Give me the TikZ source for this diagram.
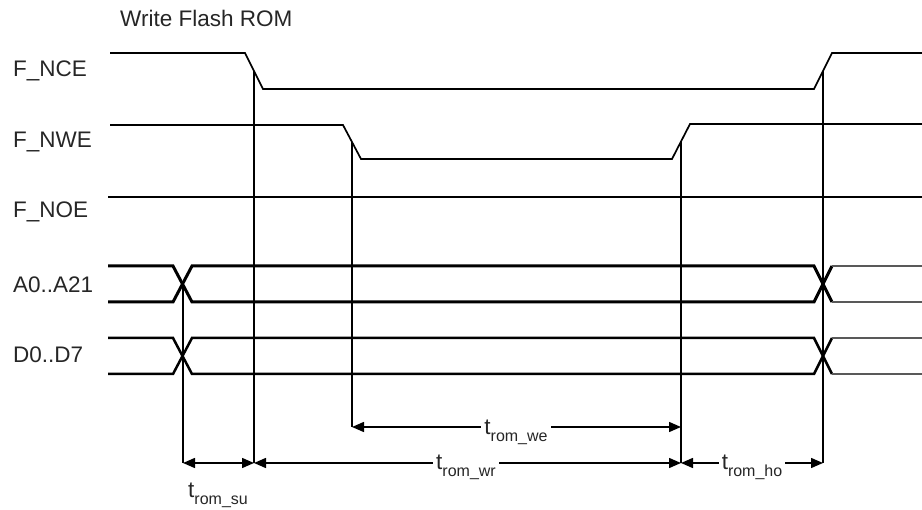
\documentclass[tikz,border=0pt]{standalone}
\usepackage{fontspec}
\setmainfont{Liberation Sans}
\usetikzlibrary{arrows.meta}
\newcommand{\tsubx}[1]{t\raisebox{-7pt}{\fontsize{16}{16}\selectfont #1}}
\begin{document}
\begin{tikzpicture}[x=1pt,y=-1pt,
  sig/.style={line width=1.7pt, line join=miter},
  thicksig/.style={line width=2.8pt},
  abus/.style={line width=3.0pt},
  dbus/.style={line width=2.5pt},
  after/.style={line width=1.5pt, black!65},
  guide/.style={line width=1.5pt},
  dim/.style={line width=1.5pt, {Triangle[length=12pt,width=10pt]}-{Triangle[length=12pt,width=10pt]}},
  lbl/.style={font=\fontsize{22.5}{27}\selectfont, inner sep=0pt, text=black!85},
  tlbl/.style={font=\fontsize{22.5}{27}\selectfont, inner xsep=3pt, inner ysep=1pt, fill=white, text=black!85}
]
\useasboundingbox (0,0) rectangle (922,510);

% title and signal labels
\node[lbl, anchor=west] (title) at (120,18) {Write Flash ROM};
\node[lbl, anchor=west] (lnce) at (13,71) {F\_NCE};
\node[lbl, anchor=west] (lnwe) at (13,142) {F\_NWE};
\node[lbl, anchor=west] (lnoe) at (13,212) {F\_NOE};
\node[lbl, anchor=west] (la) at (13,285) {A0..A21};
\node[lbl, anchor=west] (ld) at (13,355) {D0..D7};

% F_NCE
\draw[sig] (110,53) -- (245,53) -- (263,89) -- (814,89) -- (832,53) -- (922,53);
% F_NWE
\draw[sig] (110,125) -- (343,125) -- (361,159) -- (672,159) -- (690,124) -- (922,124);
% F_NOE
\draw[thicksig] (108,197) -- (922,197);

% A bus
\draw[abus] (108,266) -- (173,266) -- (192,302) -- (814,302) -- (832,266);
\draw[abus] (108,302) -- (173,302) -- (192,266) -- (814,266) -- (832,302);
\draw[after] (832,266) -- (922,266);
\draw[after] (832,302) -- (922,302);
% D bus
\draw[dbus] (108,338) -- (173,338) -- (192,374) -- (814,374) -- (832,338);
\draw[dbus] (108,374) -- (173,374) -- (192,338) -- (814,338) -- (832,374);
\draw[after] (832,338) -- (922,338);
\draw[after] (832,374) -- (922,374);

% guide coordinates
\coordinate (xa) at (183,284);
\coordinate (xab) at (183,463);
\coordinate (nf) at (254,71);
\coordinate (nfb) at (254,463);
\coordinate (wf) at (352,142);
\coordinate (wfb) at (352,427);
\coordinate (wr) at (681,142);
\coordinate (wrb) at (681,463);
\coordinate (wrm) at (681,427);
\coordinate (nr) at (823,71);
\coordinate (nrb) at (823,463);

\draw[guide] (xa) -- (xab);
\draw[guide] (nf) -- (nfb);
\draw[guide] (wf) -- (wfb);
\draw[guide] (wr) -- (wrb);
\draw[guide] (nr) -- (nrb);

% dimension arrows
\draw[dim] (xab) -- (nfb);
\draw[dim] (wfb) -- (wrm);
\draw[dim] (nfb) -- (wrb);
\draw[dim] (wrb) -- (nrb);

% timing labels
\node[tlbl, anchor=base] (twe) at (516,435) {\tsubx{rom\_we}};
\node[tlbl, anchor=base] (twr) at (466,470) {\tsubx{rom\_wr}};
\node[tlbl, anchor=base] (tho) at (752,470) {\tsubx{rom\_ho}};
\node[tlbl, anchor=base west, fill=none, inner xsep=0pt] (tsu) at (188,498) {\tsubx{rom\_su}};
\end{tikzpicture}
\end{document}
